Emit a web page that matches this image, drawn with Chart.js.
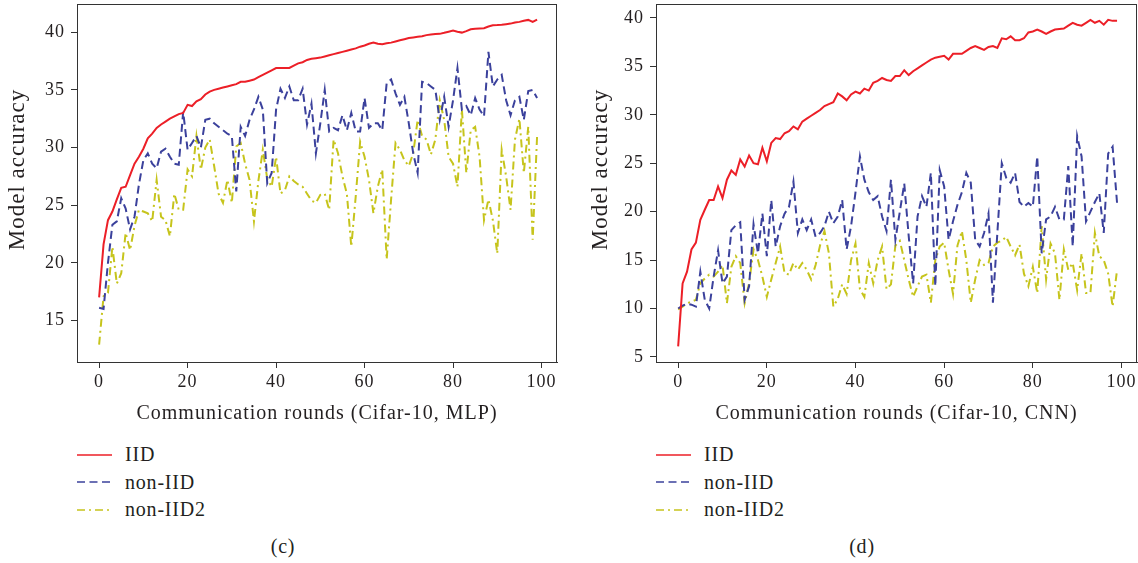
<!DOCTYPE html>
<html>
<head>
<meta charset="utf-8">
<script src="https://cdn.jsdelivr.net/npm/chart.js@4.4.1/dist/chart.umd.min.js"></script>
<style>
  body { margin: 0; background: #fff; width: 1138px; height: 563px; position: relative; overflow: hidden;
         font-family: 'Liberation Serif', serif; color: #231f20; }
  .panel { position: absolute; top: 0; width: 569px; height: 563px; }
  .plot { position: absolute; left: 0; top: 0; width: 569px; height: 430px; }
  .legend { position: absolute; top: 441px; font-size: 20px; letter-spacing: 0.8px; }
  .legend div { height: 27.5px; display: flex; align-items: center; }
  .legend svg { margin-right: 13px; }
  .caption { position: absolute; top: 535px; transform: translateX(-50%); font-size: 20px; letter-spacing: 0.8px; }
</style>
</head>
<body>
<div class="panel" style="left:0">
  <div class="plot"><canvas id="mlp" width="569" height="430"></canvas></div>
  <div class="legend" id="legMlp" style="left:77px"></div>
  <div class="caption" style="left:283px">(c)</div>
</div>
<div class="panel" style="left:569px">
  <div class="plot"><canvas id="cnn" width="569" height="430"></canvas></div>
  <div class="legend" id="legCnn" style="left:87px"></div>
  <div class="caption" style="left:293px">(d)</div>
</div>
<script>
// rounds 0..99 on the x axis
const rounds = Array.from({ length: 100 }, (_, i) => i);
const xTicks = [0, 20, 40, 60, 80, 100];
const yTicksMlp = [15, 20, 25, 30, 35, 40];
const yTicksCnn = [5, 10, 15, 20, 25, 30, 35, 40];
const seriesNames = ['IID', 'non-IID', 'non-IID2'];

// (c) Cifar-10, MLP
const mlpIid = [
  17.0, 21.6, 23.7, 24.45, 25.5, 26.5, 26.6, 27.6, 28.6, 29.2,
  29.9, 30.8, 31.2, 31.7, 32.0, 32.25, 32.5, 32.7, 32.9, 33.0,
  33.7, 33.6, 34.0, 34.2, 34.6, 34.85, 35.0, 35.1, 35.2, 35.3,
  35.4, 35.5, 35.7, 35.7, 35.8, 35.9, 36.1, 36.3, 36.5, 36.7,
  36.9, 36.9, 36.9, 36.9, 37.1, 37.3, 37.4, 37.6, 37.7, 37.75,
  37.8, 37.9, 38.0, 38.1, 38.2, 38.3, 38.4, 38.5, 38.6, 38.75,
  38.85, 39.0, 39.1, 39.0, 38.96, 39.05, 39.1, 39.2, 39.3, 39.4,
  39.5, 39.55, 39.6, 39.65, 39.75, 39.8, 39.85, 39.86, 39.95, 40.05,
  40.14, 40.05, 39.97, 40.1, 40.26, 40.3, 40.33, 40.35, 40.5, 40.6,
  40.62, 40.65, 40.7, 40.75, 40.85, 40.9, 41.0, 41.07, 40.9, 41.1
];
const mlpNonIid = [
  16.1, 16.0, 20.0, 23.3, 23.6, 25.6, 24.7, 22.9, 24.0, 26.8,
  28.9, 29.5, 28.6, 28.2, 29.65, 29.9, 29.2, 28.6, 28.5, 33.1,
  29.8, 30.4, 31.0, 30.0, 32.4, 32.5, 32.1, 31.8, 31.5, 31.2,
  31.0, 26.2, 31.8, 31.0, 32.4, 33.3, 34.4, 33.3, 26.9, 27.8,
  33.3, 35.1, 34.3, 35.3, 34.1, 34.1, 35.1, 32.0, 33.8, 29.5,
  32.1, 35.0, 31.4, 31.7, 31.5, 32.8, 31.5, 33.0, 31.4, 31.4,
  34.3, 31.7, 32.1, 32.1, 31.5, 35.6, 35.9, 34.7, 33.7, 34.4,
  32.1, 29.5, 27.8, 35.7, 35.6, 35.3, 35.0, 32.4, 34.4, 31.8,
  34.1, 36.9, 33.3, 33.6, 32.8, 34.3, 33.3, 32.7, 38.3, 35.3,
  35.9, 36.3, 34.1, 32.8, 34.1, 34.4, 32.4, 34.9, 35.0, 34.3
];
const mlpNonIid2 = [
  12.9, 17.1, 17.4, 21.4, 18.2, 19.1, 22.6, 21.1, 23.2, 24.6,
  24.45, 24.3, 23.6, 27.2, 24.0, 23.7, 22.3, 26.0, 24.6, 24.6,
  28.1, 27.5, 31.0, 28.1, 30.0, 30.7, 28.4, 26.0, 25.2, 27.2,
  25.2, 30.1, 30.4, 28.6, 27.2, 23.6, 27.1, 29.8, 27.3, 26.6,
  29.2, 26.0, 26.3, 27.5, 27.1, 26.8, 26.6, 26.0, 25.4, 25.2,
  25.9, 26.0, 24.6, 30.7, 29.5, 27.5, 26.0, 21.4, 25.75, 30.5,
  29.2, 27.2, 24.3, 26.6, 28.1, 20.3, 25.5, 30.4, 29.8, 28.9,
  28.4, 29.5, 32.4, 31.0, 30.7, 29.4, 30.7, 34.1, 32.4, 29.2,
  28.6, 26.6, 33.3, 27.8, 31.5, 31.8, 29.2, 23.7, 25.5, 23.7,
  20.8, 29.8, 27.5, 24.6, 30.7, 32.5, 27.8, 31.8, 22.0, 31.0
];

// (d) Cifar-10, CNN
const cnnIid = [
  6.1, 12.6, 13.8, 16.1, 16.8, 19.15, 20.2, 21.2, 21.2, 22.6,
  21.4, 23.3, 24.25, 23.8, 25.4, 24.65, 25.8, 25.0, 24.9, 26.6,
  25.2, 27.1, 27.6, 27.5, 28.1, 28.3, 28.8, 28.5, 29.3, 29.6,
  29.9, 30.2, 30.5, 30.9, 31.1, 31.3, 32.2, 31.9, 31.5, 32.1,
  32.4, 32.2, 32.7, 32.5, 33.3, 33.5, 33.8, 33.6, 33.5, 34.0,
  34.0, 34.6, 34.1, 34.5, 34.8, 35.1, 35.4, 35.7, 35.9, 36.0,
  36.1, 35.7, 36.3, 36.3, 36.3, 36.6, 36.9, 37.1, 36.9, 36.7,
  37.0, 37.1, 36.9, 37.9, 37.8, 38.1, 37.7, 37.7, 37.9, 38.5,
  38.6, 38.8, 38.6, 38.35, 38.6, 38.8, 38.85, 38.9, 39.2, 39.5,
  39.3, 39.2, 39.5, 39.8, 39.5, 39.7, 39.3, 39.8, 39.7, 39.7
];
const cnnNonIid = [
  10.0, 10.3, 10.5, 10.4, 10.2, 13.8, 10.9, 10.0, 13.3, 16.0,
  12.6, 13.3, 18.1, 18.6, 18.9, 10.9, 12.3, 18.7, 15.7, 19.8,
  15.4, 21.2, 16.4, 18.5, 19.8, 20.5, 23.1, 17.8, 19.2, 18.1,
  19.2, 17.4, 17.8, 18.5, 20.0, 18.8, 19.5, 21.2, 16.1, 18.5,
  22.0, 25.7, 23.3, 22.0, 21.2, 21.6, 19.5, 18.0, 23.3, 17.1,
  20.0, 22.9, 17.5, 12.6, 19.5, 21.6, 20.5, 24.0, 12.3, 24.3,
  22.6, 17.1, 19.0, 20.7, 22.0, 24.0, 23.0, 17.1, 16.4, 17.8,
  19.8, 10.6, 17.8, 25.0, 23.5, 23.0, 24.0, 21.0, 20.5, 20.9,
  20.5, 25.7, 15.7, 19.2, 19.5, 20.5, 19.2, 19.2, 24.7, 16.4,
  27.8, 25.7, 19.0, 20.0, 21.0, 21.9, 17.8, 26.0, 26.7, 20.9
];
const cnnNonIid2 = [
  9.9, 10.2, 10.55, 10.7, 10.9, 12.6, 13.1, 13.5, 13.3, 13.8,
  14.5, 10.55, 14.3, 15.4, 14.7, 10.55, 12.6, 16.1, 15.0, 13.3,
  11.2, 13.0, 14.7, 16.4, 13.65, 13.5, 14.7, 14.0, 14.7, 14.0,
  13.0, 14.5, 16.5, 18.0, 15.7, 10.2, 11.0, 12.5, 11.5, 15.0,
  16.7, 12.0, 11.2, 14.7, 12.6, 15.0, 16.4, 12.0, 12.5, 16.5,
  17.0, 15.0, 13.0, 11.2, 12.3, 13.3, 13.5, 10.6, 15.0, 16.4,
  16.8, 14.0, 11.5, 16.5, 18.0, 15.0, 10.6, 13.0, 15.0, 14.5,
  14.7, 16.4, 16.8, 17.0, 17.4, 16.4, 15.5, 16.6, 13.6, 12.3,
  14.3, 11.6, 18.5, 13.0, 16.7, 15.7, 10.9, 16.1, 14.0, 14.7,
  11.9, 15.7, 11.6, 11.6, 17.8, 15.4, 15.0, 13.6, 10.2, 14.0
];

const colors = ['#ec1f27', '#3b419c', '#c6c41c'];
const dashes = [[], [8, 4.5], [8, 4, 2, 4]];
const ink = '#231f20';
const font = 'Liberation Serif';

// frame round the plot area, plus a little letter spacing for the serif text
const boxPlugin = {
  id: 'box',
  beforeUpdate(chart) { chart.ctx.letterSpacing = '1px'; },
  beforeDraw(chart) { chart.ctx.letterSpacing = '1px'; },
  afterDraw(chart) {
    const { ctx, chartArea: a } = chart;
    ctx.save();
    ctx.strokeStyle = '#333';
    ctx.lineWidth = 1;
    ctx.strokeRect(a.left + 0.5, a.top + 0.5, a.right - a.left - 1, a.bottom - a.top);
    ctx.restore();
  }
};

function makeChart(id, values, yTicks, yMin, yMax, yWidth, padRight, yTitlePad, xTitle) {
  new Chart(document.getElementById(id), {
    type: 'line',
    data: {
      labels: rounds,
      datasets: values.map((v, i) => ({
        label: seriesNames[i],
        data: v,
        borderColor: colors[i],
        borderWidth: 2,
        borderDash: dashes[i],
        pointRadius: 0,
        tension: 0,
        fill: false,
      })),
    },
    options: {
      responsive: false,
      animation: false,
      layout: { padding: { left: 0, right: padRight, top: 4, bottom: 0 } },
      plugins: { legend: { display: false }, tooltip: { enabled: false } },
      scales: {
        x: {
          type: 'linear',
          min: -5,
          max: 103.5,
          afterBuildTicks: (s) => { s.ticks = xTicks.map((v) => ({ value: v })); },
          afterFit: (s) => { s.height = 68; s.paddingLeft = 0; s.paddingRight = 0; },
          grid: { drawOnChartArea: false, drawTicks: true, tickLength: 6, color: '#333' },
          border: { display: true, color: '#333' },
          ticks: { color: ink, font: { family: font, size: 18 }, padding: 3, maxRotation: 0 },
          title: { display: true, text: xTitle, color: ink,
                   font: { family: font, size: 20 }, padding: { top: 0, bottom: 4 } },
        },
        y: {
          min: yMin,
          max: yMax,
          afterBuildTicks: (s) => { s.ticks = yTicks.map((v) => ({ value: v })); },
          afterFit: (s) => { s.width = yWidth; s.paddingTop = 0; s.paddingBottom = 0; },
          grid: { drawOnChartArea: false, drawTicks: true, tickLength: 6, color: '#333' },
          border: { display: true, color: '#333' },
          ticks: { color: ink, font: { family: font, size: 18 }, padding: 6 },
          // leading spaces lift the label a little, as in the original figure
          title: { display: true, text: '    Model accuracy', color: ink,
                   font: { family: font, size: 23 }, padding: { top: yTitlePad, bottom: 0 } },
        },
      },
    },
    plugins: [boxPlugin],
  });
}

function makeLegend(id) {
  const box = document.getElementById(id);
  seriesNames.forEach((name, i) => {
    const row = document.createElement('div');
    const dash = dashes[i].length ? `stroke-dasharray="${dashes[i].join(' ')}"` : '';
    row.innerHTML = `<svg width="35" height="4"><line x1="0" y1="2" x2="35" y2="2" stroke="${colors[i]}" stroke-width="1.3" ${dash}/></svg><span>${name}</span>`;
    box.appendChild(row);
  });
}

makeChart('mlp', [mlpIid, mlpNonIid, mlpNonIid2], yTicksMlp, 11.4, 42.45, 77, 12, 4,
  'Communication rounds (Cifar-10, MLP)');
makeChart('cnn', [cnnIid, cnnNonIid, cnnNonIid2], yTicksCnn, 4.48, 41.44, 87, 1, 18,
  'Communication rounds (Cifar-10, CNN)');
makeLegend('legMlp');
makeLegend('legCnn');
</script>
</body>
</html>
